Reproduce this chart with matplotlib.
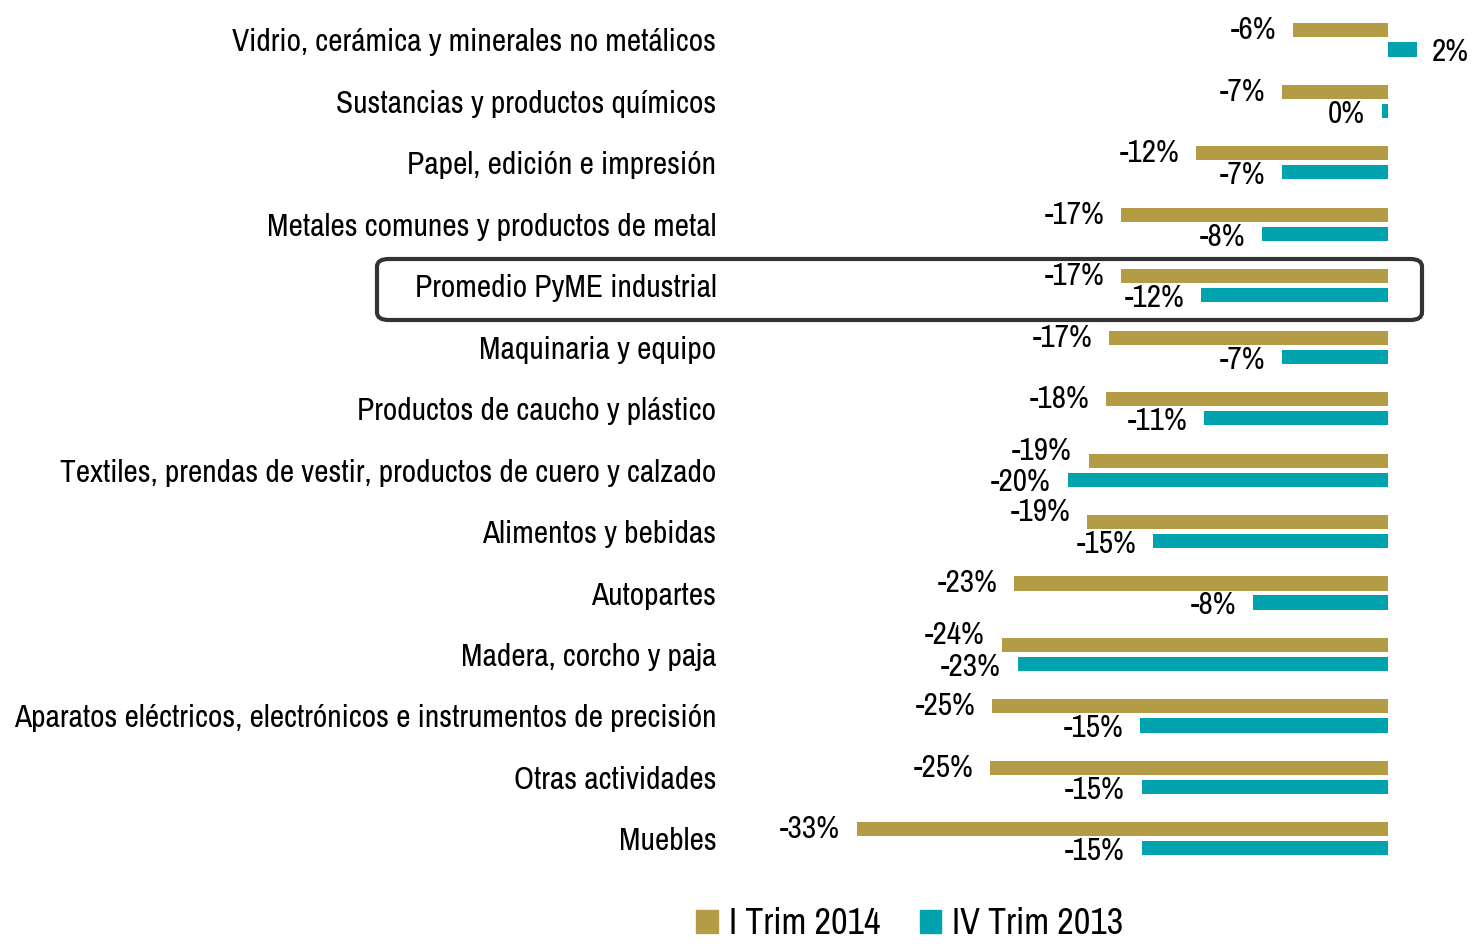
import matplotlib.pyplot as plt
from matplotlib import font_manager as fm
from matplotlib.patches import FancyBboxPatch, Patch
import numpy as np

categories = [
    "Vidrio, cerámica y minerales no metálicos",
    "Sustancias y productos químicos",
    "Papel, edición e impresión",
    "Metales comunes y productos de metal",
    "Promedio PyME industrial",
    "Maquinaria y equipo",
    "Productos de caucho y plástico",
    "Textiles, prendas de vestir, productos de cuero y calzado",
    "Alimentos y bebidas",
    "Autopartes",
    "Madera, corcho y paja",
    "Aparatos eléctricos, electrónicos e instrumentos de precisión",
    "Otras actividades",
    "Muebles",
]
trim_2014 = [-5.9, -6.6, -11.9, -16.6, -16.6, -17.3, -17.5, -18.6, -18.7, -23.2, -24.0, -24.6, -24.7, -33.0]
trim_2013 = [1.8, -0.4, -6.6, -7.8, -11.6, -6.6, -11.4, -19.9, -14.6, -8.4, -23.0, -15.4, -15.3, -15.3]
series_names = ["I Trim 2014", "IV Trim 2013"]
highlight = "Promedio PyME industrial"

GOLD = "#B39C45"
TEAL = "#00A2AE"

# narrow sans like the original (Arial Narrow); take the first one installed
installed = {f.name for f in fm.fontManager.ttflist}
narrow = next((n for n in ["Arial Narrow", "Liberation Sans Narrow", "Archivo Narrow",
                           "Roboto Condensed", "PT Sans Narrow", "Asap Condensed"]
               if n in installed), "DejaVu Sans")
plt.rcParams["font.family"] = [narrow, "DejaVu Sans"]

fig = plt.figure(figsize=(14.72, 9.47), dpi=100)
ax = fig.add_axes([740 / 1472, 67 / 947, 732 / 1472, 880 / 947])

y = np.arange(len(categories))
off = 0.155
h = 0.23
ax.barh(y - off, trim_2014, height=h, color=GOLD)
ax.barh(y + off, trim_2013, height=h, color=TEAL)

ax.set_xlim(-40.25, 5.22)
ax.set_ylim(13.67, -0.65)
ax.set_yticks(y)
ax.set_yticklabels(categories, fontsize=22.6)
ax.tick_params(axis="y", length=0, pad=17)
ax.set_xticks([])
for s in ax.spines.values():
    s.set_visible(False)


def fmt(v):
    return f"{int(round(v))}%"


for i, (a, b) in enumerate(zip(trim_2014, trim_2013)):
    # labels collide when the two bars end close together: push them apart
    close = abs(a - b) < 4.5
    dy_a = 7 if close else 0
    for v, yy, dy in ((a, i - off, dy_a), (b, i + off, -2)):
        if v >= 0:
            ax.annotate(fmt(v), (v, yy), xytext=(11, dy), textcoords="offset points",
                        ha="left", va="center", fontsize=22.5)
        else:
            ax.annotate(fmt(v), (v, yy), xytext=(-12, dy), textcoords="offset points",
                        ha="right", va="center", fontsize=22.5)

# rounded frame around the average row
box = FancyBboxPatch((377 / 1472, 1 - 320 / 947), (1422 - 377) / 1472, 61 / 947,
                     boxstyle="round,pad=0,rounding_size=0.008",
                     transform=fig.transFigure, fill=False, edgecolor="#333333",
                     linewidth=3, clip_on=False)
fig.patches.append(box)

handles = [Patch(color=GOLD), Patch(color=TEAL)]
fig.legend(handles, series_names, loc="lower center", bbox_to_anchor=(0.618, -0.027),
           ncol=2, frameon=False, fontsize=26, handlelength=0.6, handleheight=0.6,
           handletextpad=0.3, columnspacing=1.1)

fig.savefig("out.png", dpi=100)
